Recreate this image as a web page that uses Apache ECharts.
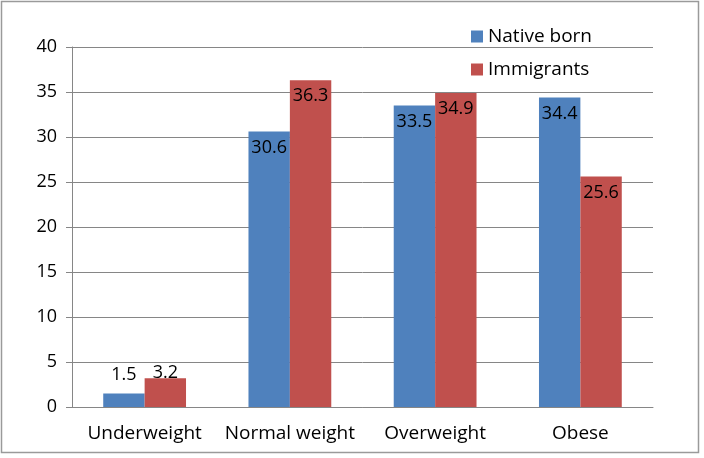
<!DOCTYPE html>
<html>
<head>
<meta charset="utf-8">
<style>
  html, body { margin: 0; padding: 0; background: #fff; }
  #mycharts { width: 704px; height: 458px; }
</style>
<script src="https://cdn.jsdelivr.net/npm/echarts@6/dist/echarts.min.js"></script>
</head>
<body>
<div id="mycharts"></div>
<script>
  const categories = ["Underweight", "Normal weight", "Overweight", "Obese"];
  const nativeBorn = [1.5, 30.6, 33.5, 34.4];
  const immigrants = [3.2, 36.3, 34.9, 25.6];
  const colors = ["#4F81BD", "#C0504D"];
  const font = "'Open Sans', 'Noto Sans', sans-serif";

  // short bars get their label pushed above the bar, like Excel does
  const withLabels = function (values, smallDist) {
    return values.map(function (v) {
      if (v < 5) {
        return { value: v, label: { position: "top", distance: smallDist } };
      }
      return v;
    });
  };

  var chartDom = document.getElementById("mycharts");
  var myChart = echarts.init(chartDom);
  var option;

  const barLabel = {
    show: true,
    position: "insideTop",
    distance: 7,
    color: "#000",
    fontSize: 18,
    fontFamily: font,
  };

  option = {
    animation: false,
    color: colors,
    graphic: [
      {
        type: "rect",
        shape: { x: 1.5, y: 1.5, width: 697, height: 451 },
        style: { fill: "none", stroke: "#9a9a9a", lineWidth: 1.5 },
        silent: true,
      },
    ],
    legend: {
      orient: "vertical",
      left: 466,
      top: 22,
      itemWidth: 12,
      itemHeight: 12,
      itemGap: 14,
      icon: "rect",
      textStyle: { fontSize: 19, fontFamily: font, color: "#000" },
      data: ["Native born", "Immigrants"],
    },
    grid: { left: 72, right: 51, top: 47, bottom: 51 },
    xAxis: {
      type: "category",
      data: categories,
      axisLine: { lineStyle: { color: "#868686" } },
      axisTick: { length: 6, lineStyle: { color: "#868686" } },
      axisLabel: {
        interval: 0,
        color: "#000",
        fontSize: 19,
        fontFamily: font,
        margin: 17,
      },
    },
    yAxis: {
      type: "value",
      min: 0,
      max: 40,
      interval: 5,
      axisLine: { show: true, lineStyle: { color: "#868686" } },
      axisTick: { show: true, length: 6, lineStyle: { color: "#868686" } },
      axisLabel: { color: "#000", fontSize: 18, fontFamily: font, margin: 15 },
      splitLine: { lineStyle: { color: "#868686" } },
    },
    series: [
      {
        name: "Native born",
        type: "bar",
        barGap: "0%",
        barCategoryGap: "43%",
        label: barLabel,
        data: withLabels(nativeBorn, 10),
      },
      {
        name: "Immigrants",
        type: "bar",
        barGap: "0%",
        barCategoryGap: "43%",
        label: barLabel,
        data: withLabels(immigrants, -4),
      },
    ],
  };

  option && myChart.setOption(option);
</script>
</body>
</html>
